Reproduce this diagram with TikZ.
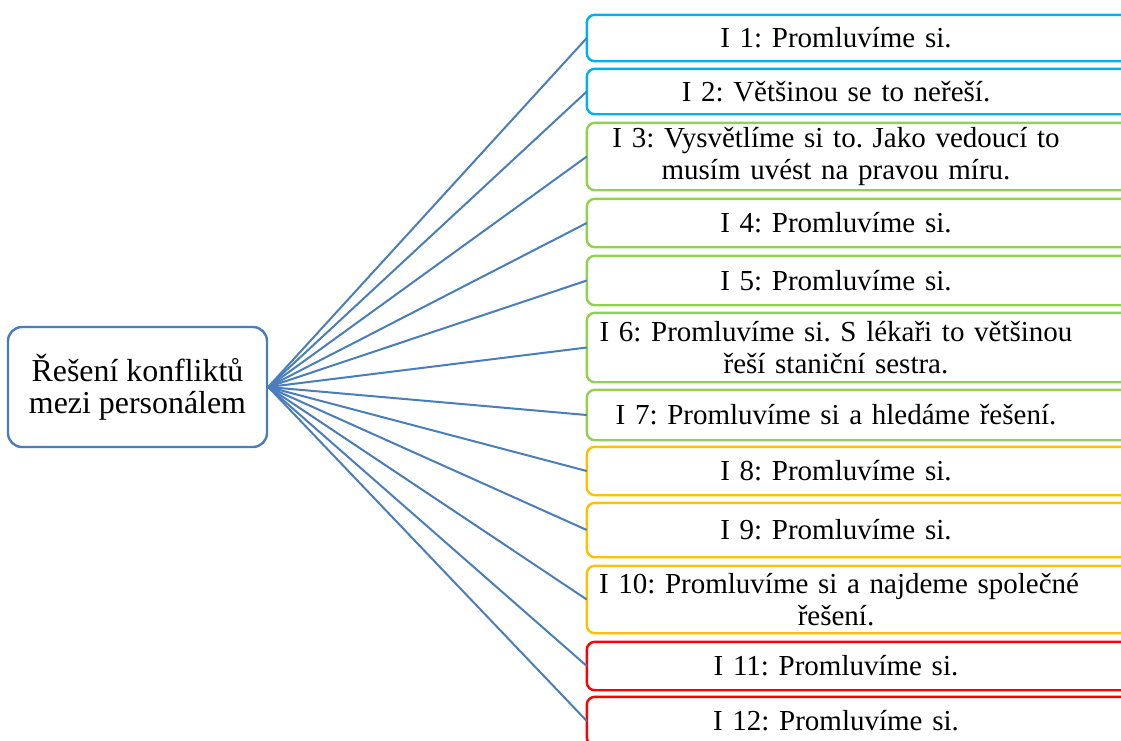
\documentclass[tikz,border=0pt]{standalone}
\usepackage{fontspec}
\setmainfont{Liberation Serif}
\usepackage{tikz}

\definecolor{linkblue}{RGB}{74,126,187}
\definecolor{cyanbox}{RGB}{0,176,240}
\definecolor{greenbox}{RGB}{146,208,80}
\definecolor{yellowbox}{RGB}{255,192,0}
\definecolor{redbox}{RGB}{255,0,0}

\frenchspacing
\newcommand\leaffont{\fontsize{29}{32.5}\selectfont}
\newcommand\rootfont{\fontsize{31.9}{32.5}\selectfont}

\tikzset{
  root/.style={draw=linkblue, line width=2.4pt, rounded corners=14pt, align=center,
    minimum width=259pt, minimum height=120pt, inner sep=0pt, font=\rootfont},
  leaf/.style={text width=474pt, align=center, inner xsep=12pt, inner ysep=0pt,
    minimum height=#1, font=\leaffont},
  frame/.style={draw=#1, line width=2.4pt, rounded corners=8pt},
  link/.style={draw=linkblue, line width=2pt},
}

\begin{document}
\begin{tikzpicture}[x=1pt,y=1pt]
\useasboundingbox (0,0) rectangle (1121,-740);
\clip (0,0) rectangle (1121,-740);

\node[root] (root) at (137.5,-387) {Řešení konfliktů\\mezi personálem};

\node[leaf=46pt] (i1) at (836,-38) {I 1: Promluvíme si.};
\node[leaf=45pt] (i2) at (836,-91.5) {I 2: Většinou se to neřeší.};
\node[leaf=67pt] (i3) at (836,-156.5) {\mbox{I 3: Vysvětlíme si to. Jako vedoucí to}\\musím uvést na pravou míru.};
\node[leaf=48pt] (i4) at (836,-223) {I 4: Promluvíme si.};
\node[leaf=49pt] (i5) at (836,-280.5) {I 5: Promluvíme si.};
\node[leaf=69pt] (i6) at (836,-347.5) {\mbox{I 6: Promluvíme si. S lékaři to většinou}\\řeší staniční sestra.};
\node[leaf=50pt] (i7) at (836,-415) {I 7: Promluvíme si a hledáme řešení.};
\node[leaf=48pt] (i8) at (836,-471) {I 8: Promluvíme si.};
\node[leaf=54pt] (i9) at (836,-530) {I 9: Promluvíme si.};
\node[leaf=67pt] (i10) at (836,-599.5) {\mbox{I 10: Promluvíme si a najdeme společné}\\řešení.};
\node[leaf=48pt] (i11) at (836,-666) {I 11: Promluvíme si.};
\node[leaf=48pt] (i12) at (836,-721) {I 12: Promluvíme si.};

% box outlines run on past the right edge
\foreach \n/\c in {i1/cyanbox,i2/cyanbox,i3/greenbox,i4/greenbox,i5/greenbox,i6/greenbox,
  i7/greenbox,i8/yellowbox,i9/yellowbox,i10/yellowbox,i11/redbox,i12/redbox}
  \draw[frame=\c] (\n.north west) rectangle ([xshift=80pt]\n.south east);

\foreach \n in {i1,i2,i3,i4,i5,i6,i7,i8,i9,i10,i11,i12}
  \draw[link] (root.east) -- (\n.west);
\end{tikzpicture}
\end{document}
